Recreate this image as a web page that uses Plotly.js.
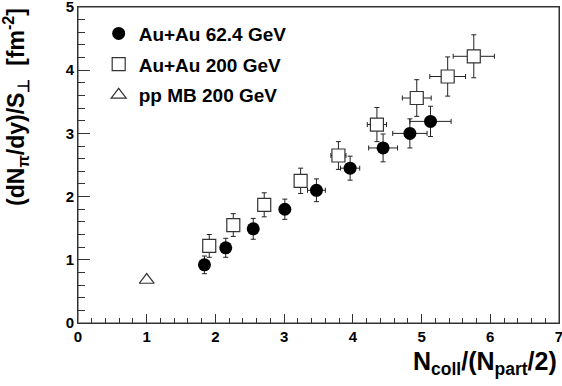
<!DOCTYPE html>
<html>
<head>
<meta charset="utf-8">
<script src="https://cdn.plot.ly/plotly-3.0.1.min.js"></script>
<style>html,body{margin:0;padding:0;background:#fff;}#chart{width:562px;height:386px;}</style>
</head>
<body>
<div id="chart"></div>
<script>
// Au+Au 62.4 GeV
var auau62_x    = [1.84, 2.15, 2.55, 3.01, 3.47, 3.96, 4.44, 4.83, 5.13];
var auau62_y    = [0.92, 1.19, 1.49, 1.80, 2.10, 2.45, 2.77, 3.00, 3.19];
var auau62_ey   = [0.14, 0.15, 0.165, 0.16, 0.18, 0.19, 0.22, 0.23, 0.24];
var auau62_ex   = [0.05, 0.05, 0.05, 0.06, 0.13, 0.14, 0.21, 0.25, 0.30];
// Au+Au 200 GeV
var auau200_x   = [1.91, 2.26, 2.71, 3.24, 3.79, 4.35, 4.93, 5.38, 5.76];
var auau200_y   = [1.22, 1.55, 1.87, 2.25, 2.65, 3.14, 3.56, 3.90, 4.22];
var auau200_ey  = [0.18, 0.18, 0.19, 0.20, 0.22, 0.27, 0.29, 0.31, 0.34];
var auau200_ex  = [0.05, 0.05, 0.05, 0.06, 0.11, 0.14, 0.21, 0.26, 0.30];
// pp MB 200 GeV
var pp_x = [1.0];
var pp_y = [0.68];

var legendNames = ['Au+Au 62.4 GeV', 'Au+Au 200 GeV', 'pp MB 200 GeV'];
var xRange = [0, 7];
var yRange = [0, 5];

var FONT = 'Liberation Sans, Arial, Helvetica, sans-serif';
var ebColor = '#222';

var traces = [
  {x: auau62_x, y: auau62_y, name: legendNames[0], type: 'scatter', mode: 'markers', legendgroup: 'a',
    marker: {symbol: 'circle', size: 13, color: '#000'},
    error_y: {type: 'data', array: auau62_ey, visible: true, color: ebColor, thickness: 1, width: 2.5},
    error_x: {type: 'data', array: auau62_ex, visible: true, color: ebColor, thickness: 1, width: 2.5}},
  {x: auau200_x, y: auau200_y, name: legendNames[1], type: 'scatter', mode: 'markers', legendgroup: 'b',
    marker: {symbol: 'square', size: 13, color: '#fff', line: {color: '#333', width: 1.2}},
    error_y: {type: 'data', array: auau200_ey, visible: true, color: ebColor, thickness: 1, width: 2.5},
    error_x: {type: 'data', array: auau200_ex, visible: true, color: ebColor, thickness: 1, width: 2.5}},
  {x: pp_x, y: pp_y, name: legendNames[2], type: 'scatter', mode: 'markers', legendgroup: 'c',
    marker: {symbol: 'triangle-up', size: 13, color: '#fff', line: {color: '#333', width: 1.2}}}
];

function axis(range, ticklen, minorlen) {
  return {
    range: range, autorange: false,
    showgrid: false, zeroline: false, showline: true, linecolor: '#333', linewidth: 1,
    mirror: true, ticks: 'inside', tickcolor: '#333', tickwidth: 1, ticklen: ticklen,
    tickmode: 'linear', tick0: 0, dtick: 1, ticklabeloverflow: 'allow', layer: 'above traces',
    tickfont: {family: FONT, size: 15, color: '#000', weight: 'bold'},
    minor: {dtick: 0.2, ticks: 'inside', ticklen: minorlen, tickcolor: '#333', tickwidth: 1}
  };
}

var layout = {
  width: 562, height: 386,
  margin: {l: 78, r: 3, t: 7, b: 63, autoexpand: false},
  showlegend: true,
  legend: {x: 0.043, y: 0.976, xanchor: 'left', yanchor: 'top', bgcolor: 'rgba(0,0,0,0)', borderwidth: 0, tracegroupgap: 3,
    font: {family: FONT, size: 19, color: '#000', weight: 'bold'}},
  xaxis: axis(xRange, 9, 5),
  yaxis: axis(yRange, 12, 7),
  shapes: [
    {type: 'rect', xref: 'paper', yref: 'paper', x0: 0, x1: 1, y0: 0, y1: 1,
      line: {color: '#333', width: 1}, fillcolor: 'rgba(0,0,0,0)', layer: 'above'}
  ],
  annotations: [
    {text: 'N<sub>coll</sub>/(N<sub>part</sub>/2)', xref: 'paper', yref: 'paper', x: 1, y: -0.183, xanchor: 'right', yanchor: 'bottom',
      showarrow: false, font: {family: FONT, size: 25, color: '#000', weight: 'bold'}},
    {text: '(dN<sub>π</sub>/dy)/S<sub>⊥</sub> &nbsp;[fm<sup>-2</sup>]', xref: 'paper', yref: 'paper', x: -0.13, y: 1.005, xanchor: 'center', yanchor: 'top',
      textangle: -90, showarrow: false, font: {family: FONT, size: 23, color: '#000', weight: 'bold'}}
  ]
};

Plotly.newPlot('chart', traces, layout, {displayModeBar: false, staticPlot: true});
</script>
</body>
</html>
